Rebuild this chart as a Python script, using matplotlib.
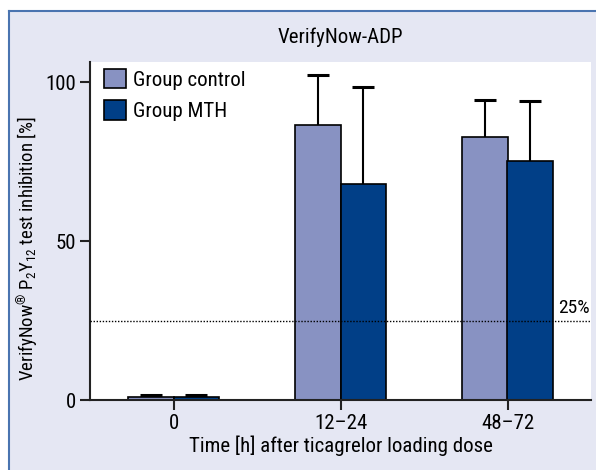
import matplotlib
matplotlib.use('Agg')
import matplotlib.pyplot as plt
from matplotlib.patches import Rectangle, Patch
from matplotlib.lines import Line2D
import numpy as np

# Data
groups = ['0', '12\u201324', '48\u201372']
control_mean = [1.0, 86.5, 82.6]
control_err = [0.6, 15.7, 11.9]
mth_mean = [1.0, 67.8, 75.2]
mth_err = [0.6, 30.6, 18.8]
threshold = 25

plt.rcParams['font.family'] = ['Roboto Condensed', 'DejaVu Sans']
plt.rcParams['mathtext.fontset'] = 'custom'
plt.rcParams['mathtext.rm'] = 'Roboto Condensed'
plt.rcParams['mathtext.it'] = 'Roboto Condensed'
plt.rcParams['mathtext.default'] = 'rm'

col_control = '#8892c2'
col_mth = '#013f87'
bg = '#e5e7f3'

fig = plt.figure(figsize=(5.96, 4.70), dpi=100)
fig.patch.set_facecolor('white')

# lavender panel with blue border on top and left
fig.patches.append(Rectangle((9 / 596, 0), 1, 1 - 11 / 470, transform=fig.transFigure,
                             facecolor=bg, edgecolor='none', zorder=-2))
fig.lines.append(Line2D([9 / 596, 9 / 596], [0, 1 - 11 / 470], transform=fig.transFigure,
                        color='#4a74b0', lw=1.5))
fig.lines.append(Line2D([9 / 596, 1], [1 - 11 / 470, 1 - 11 / 470], transform=fig.transFigure,
                        color='#4a74b0', lw=1.5))

ax = fig.add_axes([90 / 596, 1 - 400 / 470, 501 / 596, 338 / 470])
ax.set_facecolor('white')

x = np.arange(len(groups))
w = 0.273
cap = 0.066
for off, mean, err, col, lab in [(-w / 2, control_mean, control_err, col_control, 'Group control'),
                                 (w / 2, mth_mean, mth_err, col_mth, 'Group MTH')]:
    xs = x + off
    top = np.array(mean) + np.array(err)
    ax.vlines(xs, mean, top, color='black', lw=1.5, zorder=1)
    ax.hlines(top, xs - cap, xs + cap, color='black', lw=2.2, zorder=1)
    ax.bar(xs, mean, w, color=col, edgecolor='black', linewidth=1.2, label=lab, zorder=2)

ax.axhline(threshold, color='black', lw=1.0, ls=(0, (1, 1.2)), zorder=3)
ax.text(2.49, threshold + 1.2, '25%', ha='right', va='bottom', fontsize=14)

ax.set_xlim(-0.5, 2.5)
ax.set_ylim(0, 106.3)
ax.set_xticks(x)
ax.set_xticklabels(groups, fontsize=15)
ax.set_yticks([0, 50, 100])
ax.set_yticklabels(['0', '50', '100'], fontsize=15)
ax.tick_params(direction='out', length=7, width=1.5, color='#222222', pad=3)

for s in ['top', 'right']:
    ax.spines[s].set_visible(False)
for s in ['left', 'bottom']:
    ax.spines[s].set_linewidth(1.5)
    ax.spines[s].set_color('#222222')

ax.set_xlabel('Time [h] after ticagrelor loading dose', fontsize=15, labelpad=2)
ax.set_ylabel(r'VerifyNow$^{®}$ P$_{2}$Y$_{12}$ test inhibition [%]', fontsize=13.5)
ax.yaxis.set_label_coords(-49 / 501, 47.5 / 106.3)

fig.text(340.5 / 596, 1 - 37 / 470, 'VerifyNow-ADP', ha='center', va='center', fontsize=15)

handles = [Patch(facecolor=col_control, edgecolor='black', linewidth=1.2, label='Group control'),
           Patch(facecolor=col_mth, edgecolor='black', linewidth=1.2, label='Group MTH')]
ax.legend(handles=handles, loc='upper left', bbox_to_anchor=(14 / 501, 1 - 7 / 338), frameon=False,
          fontsize=15, handlelength=1.06, handleheight=1.06, handletextpad=0.35, labelspacing=0.5,
          borderaxespad=0, borderpad=0)

fig.savefig('out.png', dpi=100)
